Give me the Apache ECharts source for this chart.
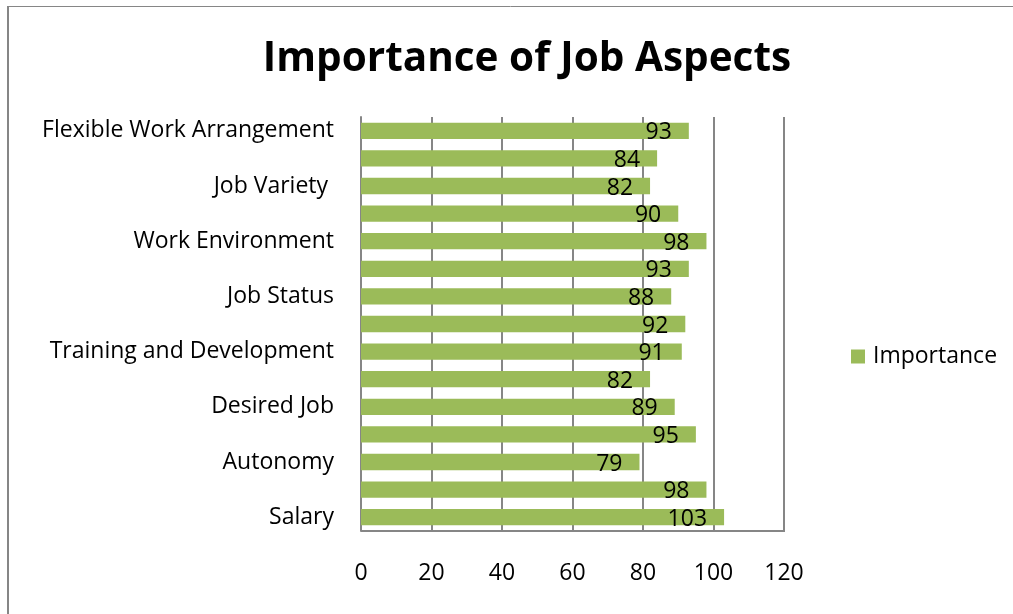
<!DOCTYPE html>
<html>
<head>
<meta charset="utf-8">
<style>
  html, body { margin: 0; padding: 0; background: #ffffff; }
  #chart { width: 1013px; height: 614px; }
</style>
<script src="https://cdn.jsdelivr.net/npm/echarts@6/dist/echarts.min.js"></script>
</head>
<body>
<div id="chart"></div>
<script>
// Aspects listed bottom to top; only every other aspect carries a printed name.
const categories = [
  'Salary', '', 'Autonomy', '', 'Desired Job', '', 'Training and Development', '',
  'Job Status', '', 'Work Environment', '', 'Job Variety ', '', 'Flexible Work Arrangement'
];
const importance = [103, 98, 79, 95, 89, 82, 91, 92, 88, 93, 98, 90, 82, 84, 93];
const xTicks = [0, 20, 40, 60, 80, 100, 120];

const FONT = '"Open Sans", sans-serif';
const chart = echarts.init(document.getElementById('chart'), null, { renderer: 'canvas' });

chart.setOption({
  backgroundColor: '#ffffff',
  animation: false,
  title: {
    text: 'Importance of Job Aspects',
    left: 522,
    top: 34,
    textAlign: 'center',
    textStyle: { fontFamily: FONT, fontWeight: 'bold', fontSize: 40.5, color: '#000000' }
  },
  legend: {
    data: ['Importance'],
    left: 846,
    top: 340,
    icon: 'rect',
    itemWidth: 14,
    itemHeight: 14,
    itemGap: 10,
    textStyle: { fontFamily: FONT, fontSize: 23, color: '#000000', padding: [0, 0, 0, 3] }
  },
  grid: { left: 361, right: 229, top: 117, bottom: 83, containLabel: false },
  xAxis: {
    type: 'value',
    min: xTicks[0],
    max: xTicks[xTicks.length - 1],
    interval: 20,
    axisLine: { show: false },
    axisTick: { show: false },
    splitLine: { show: true, lineStyle: { color: '#868686', width: 2 } },
    axisLabel: {
      fontFamily: FONT, fontSize: 23, color: '#000000', margin: 31,
      formatter: v => xTicks.includes(v) ? String(v) : ''
    }
  },
  yAxis: {
    type: 'category',
    data: categories,
    axisLine: { show: true, lineStyle: { color: '#868686', width: 2 } },
    axisTick: { show: false },
    axisLabel: { fontFamily: FONT, fontSize: 23, color: '#000000', margin: 27, interval: 0 }
  },
  series: [{
    name: 'Importance',
    type: 'bar',
    data: importance,
    barCategoryGap: '41%',
    itemStyle: { color: '#9BBB59' },
    label: {
      show: true,
      position: 'insideRight',
      distance: 17,
      offset: [0, 2],
      fontFamily: FONT,
      fontSize: 23,
      color: '#000000'
    }
  }],
  graphic: [
    // outer frame edges (top and left) and the plot's bottom border
    { type: 'line', shape: { x1: 8, y1: 6.5, x2: 1013, y2: 6.5 }, style: { stroke: '#868686', lineWidth: 1 }, silent: true },
    { type: 'line', shape: { x1: 8, y1: 6, x2: 8, y2: 614 }, style: { stroke: '#868686', lineWidth: 2 }, silent: true },
    { type: 'line', shape: { x1: 361, y1: 531, x2: 785, y2: 531 }, style: { stroke: '#868686', lineWidth: 2 }, silent: true }
  ]
});
</script>
</body>
</html>
